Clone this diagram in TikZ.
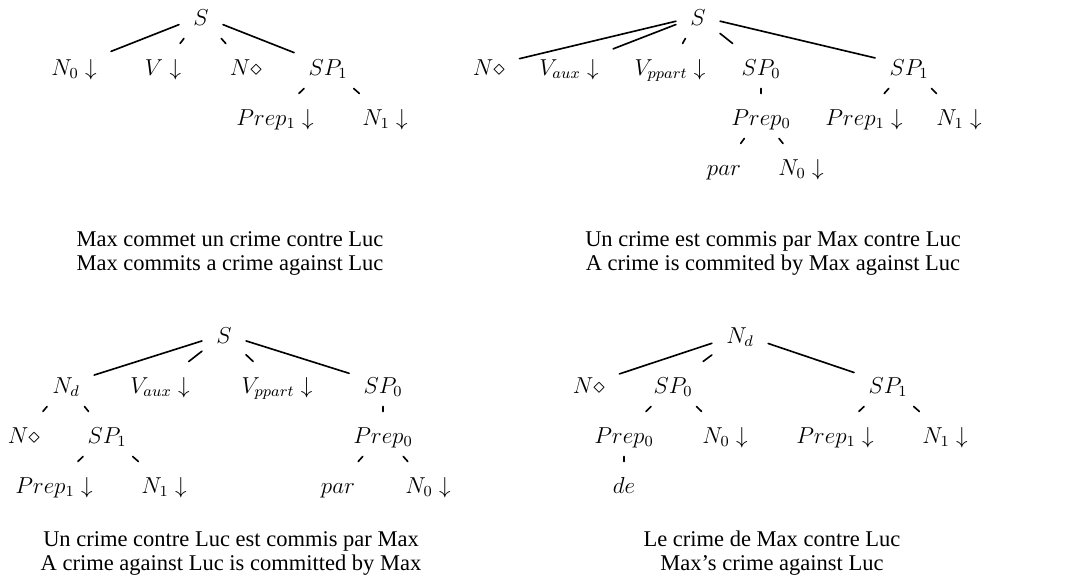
\documentclass[12pt,tikz,border=0pt]{standalone}
\usepackage[no-math]{fontspec}
\setmainfont{Liberation Serif}

\begin{document}
\begin{tikzpicture}[x=0.52pt, y=-0.52pt, line cap=round, line join=round,
    cat/.style={anchor=base, inner xsep=7.3pt, inner ysep=6.8pt, text height=9.4pt, text depth=0pt},
    gloss/.style={anchor=base, inner sep=0pt, font=\fontsize{11.7pt}{12.5pt}\selectfont},
    branch/.style={line width=0.85pt}]
    \useasboundingbox (0,0) rectangle (1070,579);

    % tree 1: active
    \node[cat] (aS) at (201,25) {$S$};
    \node[cat] (aN0) at (74,75) {$N_0\downarrow$};
    \node[cat] (aV) at (163,75) {$V\downarrow$};
    \node[cat] (aN) at (246,75) {$N\diamond$};
    \node[cat] (aSP1) at (328,75) {$SP_1$};
    \node[cat] (aPrep1) at (275,125) {$Prep_1\downarrow$};
    \node[cat] (aN1) at (385,125) {$N_1\downarrow$};
    \draw[branch] (aS) -- (aN0) (aS) -- (aV) (aS) -- (aN) (aS) -- (aSP1);
    \draw[branch] (aSP1) -- (aPrep1) (aSP1) -- (aN1);
    \node[gloss] (aFr) at (230,246) {Max commet un crime contre Luc};
    \node[gloss] (aEn) at (230,270) {Max commits a crime against Luc};

    % tree 2: passive
    \node[cat] (bS) at (698,25) {$S$};
    \node[cat] (bN) at (489,75) {$N\diamond$};
    \node[cat] (bVaux) at (569,75) {$V_{aux}\downarrow$};
    \node[cat] (bVppart) at (670,75) {$V_{ppart}\downarrow$};
    \node[cat] (bSP0) at (761,75) {$SP_0$};
    \node[cat] (bSP1) at (909,75) {$SP_1$};
    \node[cat] (bPrep0) at (761,125) {$Prep_0$};
    \node[cat] (bPrep1) at (864,125) {$Prep_1\downarrow$};
    \node[cat] (bN1) at (959,125) {$N_1\downarrow$};
    \node[cat] (bPar) at (724,175) {$par$};
    \node[cat] (bN0) at (801,175) {$N_0\downarrow$};
    \draw[branch] (bS) -- (bN) (bS) -- (bVaux) (bS) -- (bVppart) (bS) -- (bSP0) (bS) -- (bSP1);
    \draw[branch] (bSP0) -- (bPrep0) (bPrep0) -- (bPar) (bPrep0) -- (bN0);
    \draw[branch] (bSP1) -- (bPrep1) (bSP1) -- (bN1);
    \node[gloss] (bFr) at (773,246) {Un crime est commis par Max contre Luc};
    \node[gloss] (bEn) at (773,270) {A crime is commited by Max against Luc};

    % tree 3: passive with nominal subject
    \node[cat] (cS) at (224,343) {$S$};
    \node[cat] (cNd) at (66,393) {$N_d$};
    \node[cat] (cVaux) at (160,393) {$V_{aux}\downarrow$};
    \node[cat] (cVppart) at (277,393) {$V_{ppart}\downarrow$};
    \node[cat] (cSP0) at (383,393) {$SP_0$};
    \node[cat] (cN) at (24,443) {$N\diamond$};
    \node[cat] (cSP1) at (107,443) {$SP_1$};
    \node[cat] (cPrep0) at (383,443) {$Prep_0$};
    \node[cat] (cPrep1) at (54,493) {$Prep_1\downarrow$};
    \node[cat] (cN1) at (164,493) {$N_1\downarrow$};
    \node[cat] (cPar) at (338,493) {$par$};
    \node[cat] (cN0) at (428,493) {$N_0\downarrow$};
    \draw[branch] (cS) -- (cNd) (cS) -- (cVaux) (cS) -- (cVppart) (cS) -- (cSP0);
    \draw[branch] (cNd) -- (cN) (cNd) -- (cSP1) (cSP1) -- (cPrep1) (cSP1) -- (cN1);
    \draw[branch] (cSP0) -- (cPrep0) (cPrep0) -- (cPar) (cPrep0) -- (cN0);
    \node[gloss] (cFr) at (231,546) {Un crime contre Luc est commis par Max};
    \node[gloss] (cEn) at (231,570) {A crime against Luc is committed by Max};

    % tree 4: nominal
    \node[cat] (dNd) at (740,343) {$N_d$};
    \node[cat] (dN) at (589,393) {$N\diamond$};
    \node[cat] (dSP0) at (673,393) {$SP_0$};
    \node[cat] (dSP1) at (888,393) {$SP_1$};
    \node[cat] (dPrep0) at (624,443) {$Prep_0$};
    \node[cat] (dN0) at (725,443) {$N_0\downarrow$};
    \node[cat] (dPrep1) at (835,443) {$Prep_1\downarrow$};
    \node[cat] (dN1) at (945,443) {$N_1\downarrow$};
    \node[cat] (dDe) at (624,493) {$de$};
    \draw[branch] (dNd) -- (dN) (dNd) -- (dSP0) (dNd) -- (dSP1);
    \draw[branch] (dSP0) -- (dPrep0) (dSP0) -- (dN0) (dPrep0) -- (dDe);
    \draw[branch] (dSP1) -- (dPrep1) (dSP1) -- (dN1);
    \node[gloss] (dFr) at (772,546) {Le crime de Max contre Luc};
    \node[gloss] (dEn) at (772,570) {Max's crime against Luc};
\end{tikzpicture}
\end{document}
